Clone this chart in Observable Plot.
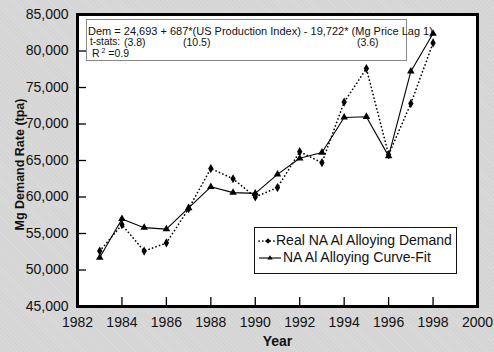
<!DOCTYPE html>
<html><head><meta charset="utf-8">
<script src="https://cdn.jsdelivr.net/npm/d3@7"></script>
<script src="https://cdn.jsdelivr.net/npm/@observablehq/plot@0.6"></script>
<style>
html,body{margin:0;padding:0;background:#d5d5d5;}
#wrap{position:relative;width:494px;height:352px;font-family:"Liberation Sans",Arial,sans-serif;color:#111;
 background-image:repeating-linear-gradient(45deg,rgba(255,255,255,0.12) 0 1px,transparent 1px 3px);}
#wrap svg{position:absolute;left:0;top:0;}
.box{position:absolute;background:#fff;}
.t{position:absolute;white-space:nowrap;line-height:1;}
</style></head><body><div id="wrap"></div>
<script>
const years = [1983,1984,1985,1986,1987,1988,1989,1990,1991,1992,1993,1994,1995,1996,1997,1998];
const demand = [52600,56200,52600,53700,58400,63900,62500,60000,61300,66200,64700,73000,77600,65800,72800,81100];
const curveFit = [51700,57000,55800,55600,58500,61400,60600,60500,63100,65300,66100,70900,71000,65600,77200,82400];
const xTicks = [1982,1984,1986,1988,1990,1992,1994,1996,1998,2000];
const yTicks = [45000,50000,55000,60000,65000,70000,75000,80000,85000];
const seriesNames = ["Real NA Al Alloying Demand","NA Al Alloying Curve-Fit"];
const xTitle = "Year";
const yTitle = "Mg Demand Rate (tpa)";
const eqLine1 = "Dem = 24,693 + 687*(US Production Index)  - 19,722* (Mg Price Lag 1)";
const eqStatsLabel = "t-stats:";
const eqStats = ["(3.8)","(10.5)","(3.6)"];
const eqR2 = ["R","2"," =0.9"];

const W = 494, H = 352, mL = 77, mR = 17, mT = 14, mB = 46;
const innerW = W - mL - mR, innerH = H - mT - mB;
const demandData = years.map((x,i)=>({x, y: demand[i]}));
const fitData = years.map((x,i)=>({x, y: curveFit[i]}));
const innerX = xTicks.slice(1,-1), innerY = yTicks.slice(1,-1);

const chart = Plot.plot({
  width: W, height: H,
  marginLeft: mL, marginRight: mR, marginTop: mT, marginBottom: mB,
  style: {background: "transparent", fontFamily: '"Liberation Sans", Arial, sans-serif', color: "#111"},
  x: {domain: [1982, 2000]},
  y: {domain: [45000, 85000]},
  marks: [
    Plot.frame({fill: "white", stroke: null}),
    Plot.tickY(innerY, {y: d=>d, insetRight: innerW - 9, stroke: "black", strokeWidth: 1.3}),
    Plot.tickX(innerX, {x: d=>d, insetTop: innerH - 9, stroke: "black", strokeWidth: 1.3}),
    Plot.line(demandData, {x: "x", y: "y", stroke: "black", strokeWidth: 1.7, strokeDasharray: "0.1,3.6", strokeLinecap: "round"}),
    Plot.line(fitData, {x: "x", y: "y", stroke: "black", strokeWidth: 1.1}),
    Plot.dot(demandData, {x: "x", y: "y", symbol: "diamond", r: 2.8, fill: "black", stroke: null}),
    Plot.dot(fitData, {x: "x", y: "y", symbol: "triangle", r: 2.8, fill: "black", stroke: null}),
    Plot.axisY({ticks: yTicks, tickSize: 0, tickPadding: 9, tickFormat: d3.format(","), fontSize: 14, label: null}),
    Plot.axisX({ticks: xTicks, tickSize: 0, tickPadding: 11, tickFormat: d=>String(d), fontSize: 14, label: null}),
    Plot.text([xTitle], {frameAnchor: "bottom", dy: 39, fontSize: 14, fontWeight: "bold", text: d=>d}),
    Plot.text([yTitle], {frameAnchor: "left", textAnchor: "middle", dx: -58, dy: 4, rotate: -90, fontSize: 12.5, fontWeight: "bold", text: d=>d}),
    Plot.frame({stroke: "black", strokeWidth: 3})
  ]
});
const wrap = document.getElementById("wrap");
wrap.appendChild(chart);

function add(html){ wrap.insertAdjacentHTML("beforeend", html); }
// equation box
add(`<div class="box" style="left:86px;top:19px;width:319px;height:40px;border:1px solid #888;"></div>`);
add(`<div class="t" style="left:88px;top:26px;font-size:11px;">${eqLine1}</div>`);
add(`<div class="t" style="left:90px;top:37px;font-size:10px;">${eqStatsLabel}</div>`);
[[124],[183],[357]].forEach((p,i)=>add(`<div class="t" style="left:${p[0]}px;top:37px;font-size:10.5px;">${eqStats[i]}</div>`));
add(`<div class="t" style="left:92px;top:47px;font-size:10.5px;">${eqR2[0]}<sup style="font-size:7px;vertical-align:4px;"> ${eqR2[1]}</sup>${eqR2[2]}</div>`);
// legend
add(`<div class="box" style="left:254px;top:227px;width:201px;height:45px;border:1.5px solid #111;"></div>`);
add(`<svg width="494" height="352" style="position:absolute;left:0;top:0;pointer-events:none">
  <line x1="259" y1="241" x2="276" y2="241" stroke="black" stroke-width="1.7" stroke-dasharray="0.1,3.6" stroke-linecap="round"/>
  <path d="M268,238.2L270.8,241L268,243.8L265.2,241Z" fill="black"/>
  <line x1="259" y1="258" x2="281" y2="258" stroke="black" stroke-width="1.1"/>
  <path d="M270,255.3L272.7,259.6L267.3,259.6Z" fill="black"/>
</svg>`);
add(`<div class="t" style="left:276px;top:233px;font-size:14px;">${seriesNames[0]}</div>`);
add(`<div class="t" style="left:283px;top:250px;font-size:14px;">${seriesNames[1]}</div>`);
</script></body></html>
